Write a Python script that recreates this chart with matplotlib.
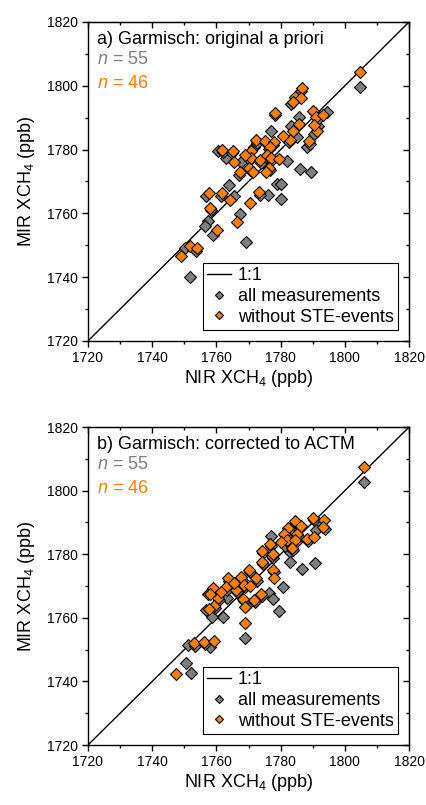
import numpy as np
import matplotlib
matplotlib.use('Agg')
import matplotlib.pyplot as plt
from matplotlib.ticker import MultipleLocator

plt.rcParams['font.family'] = ['Liberation Sans', 'DejaVu Sans']
plt.rcParams['mathtext.fontset'] = 'custom'
plt.rcParams['mathtext.rm'] = 'Liberation Sans'
plt.rcParams['mathtext.it'] = 'Liberation Sans:italic'

GREY = '#7f7f7f'
ORANGE = '#ff8000'

# ---- panel a: original a priori ----
a_all_nir = [1804.8, 1785.3, 1778.1, 1794.4, 1785.8, 1791.5, 1790.4, 1776.9, 1785.1, 1788.1,
             1771.6, 1760.4, 1763.1, 1767.7, 1781.9, 1786.0, 1789.4, 1763.8, 1778.8, 1780.2,
             1776.1, 1780.2, 1756.7, 1765.4, 1767.2, 1757.4, 1756.3, 1758.8, 1769.1, 1750.3,
             1751.7, 1786.2, 1783.2, 1790.6, 1791.6, 1783.3, 1782.5, 1789.1, 1772.5, 1775.3,
             1777.6, 1776.3, 1761.9, 1765.0, 1770.5, 1773.8, 1775.5, 1777.4, 1776.8, 1770.5,
             1767.0, 1773.5, 1761.5, 1758.4, 1753.7]
a_all_mir = [1799.5, 1796.5, 1790.8, 1791.7, 1790.3, 1787.5, 1784.9, 1785.8, 1784.1, 1780.8,
             1780.7, 1779.5, 1777.4, 1776.0, 1776.3, 1774.0, 1772.9, 1768.8, 1769.3, 1769.1,
             1765.8, 1764.6, 1765.6, 1765.6, 1759.7, 1757.6, 1755.9, 1753.1, 1751.0, 1749.0,
             1740.1, 1798.5, 1794.2, 1791.4, 1789.6, 1787.3, 1782.3, 1781.8, 1782.2, 1782.0,
             1781.5, 1780.2, 1779.2, 1778.9, 1776.6, 1775.8, 1777.6, 1776.6, 1773.5, 1773.5,
             1772.1, 1765.9, 1765.5, 1761.0, 1748.3]
a_ste_nir = [1804.8, 1786.7, 1784.5, 1786.3, 1783.8, 1778.3, 1790.0, 1790.9, 1793.1, 1785.6,
             1791.2, 1783.8, 1783.0, 1788.9, 1772.2, 1775.0, 1777.9, 1776.6, 1761.6, 1765.2,
             1765.4, 1770.8, 1770.8, 1773.5, 1775.8, 1777.1, 1779.4, 1776.5, 1775.3, 1770.2,
             1771.3, 1767.2, 1773.2, 1757.8, 1761.8, 1764.2, 1758.1, 1770.6, 1766.5, 1760.2,
             1751.7, 1754.0, 1749.0, 1790.5, 1768.8, 1780.6]
a_ste_mir = [1804.4, 1799.2, 1796.6, 1796.3, 1794.9, 1791.5, 1792.1, 1790.3, 1790.8, 1788.0,
             1785.9, 1785.9, 1783.0, 1782.6, 1783.0, 1782.8, 1782.3, 1780.9, 1780.0, 1779.7,
             1776.0, 1779.5, 1777.4, 1776.6, 1778.4, 1777.4, 1777.1, 1774.3, 1773.1, 1774.3,
             1773.1, 1772.9, 1766.7, 1766.3, 1766.3, 1764.3, 1761.8, 1763.2, 1757.3, 1754.7,
             1749.7, 1749.0, 1746.6, 1787.8, 1778.2, 1784.2]

# ---- panel b: corrected to ACTM ----
b_all_nir = [1806.0, 1791.6, 1791.1, 1777.0, 1782.8, 1782.8, 1786.7, 1790.6, 1757.3, 1780.7,
             1776.5, 1777.6, 1769.5, 1763.2, 1762.0, 1758.5, 1779.6, 1756.7, 1769.0, 1751.0,
             1758.0, 1750.5, 1752.0, 1783.5, 1781.5, 1790.3, 1793.8, 1784.9, 1782.7, 1781.6,
             1785.4, 1782.3, 1784.8, 1788.4, 1783.8, 1777.1, 1774.5, 1777.6, 1774.4, 1777.9,
             1770.5, 1768.0, 1772.6, 1763.8, 1763.4, 1766.4, 1768.8, 1759.1, 1774.2, 1771.9,
             1768.7, 1760.7, 1759.6, 1753.2, 1756.5]
b_all_mir = [1802.8, 1790.2, 1787.6, 1785.7, 1780.8, 1777.6, 1775.3, 1777.1, 1767.5, 1769.6,
             1767.9, 1765.8, 1764.0, 1766.1, 1760.3, 1760.2, 1762.1, 1762.5, 1753.7, 1751.4,
             1750.9, 1745.7, 1742.5, 1788.5, 1782.5, 1790.7, 1787.8, 1789.8, 1787.4, 1785.7,
             1785.6, 1783.8, 1783.8, 1784.2, 1781.3, 1782.5, 1780.4, 1778.7, 1776.9, 1774.5,
             1774.3, 1772.0, 1771.7, 1771.7, 1768.9, 1768.0, 1769.6, 1768.6, 1766.8, 1764.9,
             1765.2, 1765.6, 1763.0, 1751.3, 1751.8]
b_ste_nir = [1806.0, 1790.0, 1793.5, 1793.2, 1784.5, 1782.4, 1781.2, 1785.1, 1782.0, 1784.5,
             1788.1, 1790.4, 1783.5, 1776.8, 1774.2, 1777.3, 1774.1, 1777.6, 1770.2, 1767.7,
             1772.3, 1777.9, 1763.5, 1763.1, 1766.1, 1768.5, 1758.8, 1773.9, 1771.6, 1768.4,
             1768.9, 1760.4, 1759.3, 1757.7, 1769.0, 1752.9, 1756.2, 1759.3, 1747.3, 1777.6,
             1786.5, 1780.0, 1770.5, 1765.5, 1758.0, 1761.5]
b_ste_mir = [1807.3, 1791.5, 1790.8, 1788.5, 1790.5, 1788.1, 1786.4, 1786.3, 1784.5, 1784.5,
             1784.9, 1785.3, 1782.0, 1783.2, 1781.1, 1779.4, 1777.6, 1775.2, 1775.0, 1772.7,
             1772.4, 1772.4, 1772.4, 1769.6, 1768.7, 1770.3, 1769.3, 1767.5, 1765.6, 1765.9,
             1763.3, 1766.3, 1763.7, 1762.7, 1758.5, 1752.0, 1752.5, 1752.8, 1742.3, 1780.1,
             1789.0, 1784.0, 1770.0, 1771.0, 1767.5, 1768.0]

panels = [
    ('a) Garmisch: original a priori', a_all_nir, a_all_mir, a_ste_nir, a_ste_mir),
    ('b) Garmisch: corrected to ACTM', b_all_nir, b_all_mir, b_ste_nir, b_ste_mir),
]

fig = plt.figure(figsize=(4.27, 8.05), dpi=100)
rects = [[0.206, 0.5764, 0.752, 0.3963], [0.206, 0.0745, 0.752, 0.3950]]

for rect, (title, xa, ya, xs, ys) in zip(rects, panels):
    ax = fig.add_axes(rect)
    ax.plot([1720, 1820], [1720, 1820], color='black', lw=1.0, label='1:1', zorder=1)
    ax.plot(xa, ya, 'D', ms=6.5, mfc=GREY, mec='black', mew=0.8, ls='none',
            label='all measurements', zorder=2)
    ax.plot(xs, ys, 'D', ms=6.5, mfc=ORANGE, mec='black', mew=0.8, ls='none',
            label='without STE-events', zorder=3)
    ax.set_xlim(1720, 1820)
    ax.set_ylim(1720, 1820)

    # outward ticks bottom/left, inward ticks on top/right spines
    sx = ax.secondary_xaxis('top')
    sy = ax.secondary_yaxis('right')
    for axis in (ax.xaxis, ax.yaxis, sx.xaxis, sy.yaxis):
        axis.set_major_locator(MultipleLocator(20))
        axis.set_minor_locator(MultipleLocator(10))
    ax.tick_params(which='both', direction='out', labelsize=10, width=1.0)
    sx.tick_params(which='both', direction='in', labeltop=False, width=1.0)
    sy.tick_params(which='both', direction='in', labelright=False, width=1.0)
    for a in (ax, sx, sy):
        a.tick_params(which='major', length=4)
        a.tick_params(which='minor', length=2.5)
    for s in ax.spines.values():
        s.set_linewidth(1.0)

    ax.set_xlabel('NIR XCH$_4$ (ppb)', fontsize=13, labelpad=2)
    ax.set_ylabel('MIR XCH$_4$ (ppb)', fontsize=13, labelpad=7)
    ax.text(0.028, 0.944, title, transform=ax.transAxes, fontsize=13, va='center')
    ax.text(0.028, 0.881, '$n$ = 55', transform=ax.transAxes, fontsize=13, va='center', color=GREY)
    ax.text(0.028, 0.808, '$n$ = 46', transform=ax.transAxes, fontsize=13, va='center', color=ORANGE)
    leg = ax.legend(loc='lower right', fontsize=13, markerscale=0.7, handlelength=1.3,
                    handletextpad=0.4, borderpad=0.25, labelspacing=0.2, borderaxespad=0.6,
                    fancybox=False, framealpha=1, edgecolor='black')
    leg.get_frame().set_linewidth(0.8)

fig.savefig('out.png', dpi=100)
